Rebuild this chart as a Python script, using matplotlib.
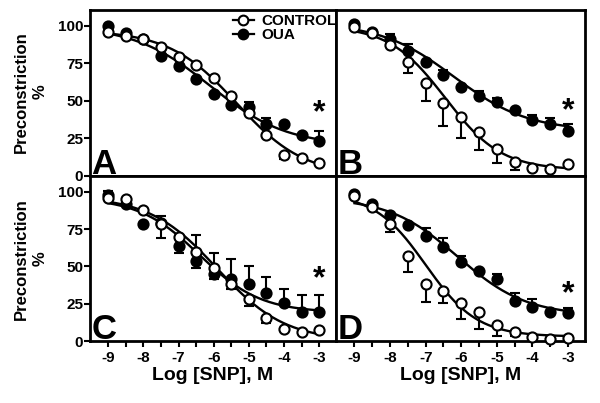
import numpy as np
import matplotlib
matplotlib.use('Agg')
import matplotlib.pyplot as plt
from matplotlib.lines import Line2D

plt.rcParams['font.family'] = ['Liberation Sans', 'DejaVu Sans']
plt.rcParams['font.weight'] = 'bold'

# SNP concentrations (log M)
log_snp = [-9, -8.5, -8, -7.5, -7, -6.5, -6, -5.5, -5, -4.5, -4, -3.5, -3]
xtick_pos = [-9, -8, -7, -6, -5, -4, -3]
xtick_labels = ['-9', '-8', '-7', '-6', '-5', '-4', '-3']
ytick_pos = [0, 25, 50, 75, 100]

# panel A
ctrl_A = [95.8, 93.5, 91, 86, 79, 74, 65.5, 53, 42, 27, 14, 11.8, 8.5]
ctrl_A_up = [0, 0, 0, 0, 0, 0, 0, 0, 0, 0, 0, 0, 0]
ctrl_A_dn = [0, 0, 0, 0, 0, 0, 0, 0, 0, 0, 3, 0, 0]
oua_A = [100, 95.5, 91, 80, 73, 64.7, 54.7, 47.3, 45.8, 34.4, 34.7, 27.3, 23.5]
oua_A_up = [0, 0, 0, 0, 0, 0, 0, 0, 3.2, 4, 0, 0, 6.5]
oua_A_dn = [0, 0, 0, 0, 0, 0, 0, 0, 0, 0, 0, 0, 0]

# panel B
ctrl_B = [99, 95, 87.3, 76, 61.8, 48.4, 39.5, 29, 17.8, 9, 5, 4.7, 8]
ctrl_B_up = [0, 0, 0, 0, 0, 0, 0, 0, 0, 0, 0, 0, 0]
ctrl_B_dn = [0, 0, 0, 7.3, 12.2, 15.1, 14.4, 11.6, 8.9, 4.7, 0, 0, 0]
oua_B = [101, 95.8, 91, 83.5, 76, 67.3, 59, 53.5, 49, 44, 37, 34.4, 30.2]
oua_B_up = [0, 0, 3.3, 4.4, 0, 3.3, 0, 3.3, 2.7, 0, 3.8, 4.4, 4.4]
oua_B_dn = [0, 0, 0, 0, 0, 0, 0, 0, 0, 0, 0, 0, 0]

# panel C
ctrl_C = [95.5, 95, 87.7, 78.3, 69.4, 59.7, 49.2, 38, 28, 15.7, 8.3, 6.3, 7.4]
ctrl_C_up = [0, 0, 0, 0, 0, 11.3, 9.6, 0, 0, 0, 0, 0, 0]
ctrl_C_dn = [0, 0, 0, 9.6, 0, 0, 0, 3.4, 4.5, 3.8, 0, 0, 0]
oua_C = [97.5, 91.5, 78.3, 79, 63.8, 53.7, 44.7, 41.6, 38, 32.4, 25.3, 19.5, 19.5]
oua_C_up = [3, 0, 0, 4.5, 0, 0, 0, 13, 11.9, 10.5, 9.8, 11.2, 11.4]
oua_C_dn = [3, 0, 0, 0, 5, 4.5, 3.4, 0, 0, 0, 0, 0, 0]

# panel D
ctrl_D = [97, 90, 78.3, 57, 38.5, 33.6, 25.3, 19.7, 10.5, 6.3, 2.9, 1.6, 1.8]
ctrl_D_up = [0, 0, 0, 0, 0, 0, 0, 0, 0, 0, 0, 0, 0]
ctrl_D_dn = [0, 0, 5.2, 10.7, 12.3, 8.3, 10.8, 11.9, 7.1, 3, 0, 0, 0]
oua_D = [98.4, 91.7, 84.3, 77.6, 70, 63, 52.6, 47, 41.4, 26.8, 23, 19.7, 19]
oua_D_up = [0, 0, 0, 0, 5.4, 5.7, 4.4, 0, 3.3, 5.6, 5.4, 0, 3.4]
oua_D_dn = [0, 0, 0, 0, 0, 0, 0, 0, 0, 0, 0, 0, 0]

# sigmoid fit parameters: top, bottom, logEC50, hill slope
ctrl_fit_A = [97, 0, -5.35, 0.45]
oua_fit_A = [100, 20, -6.1, 0.4]
ctrl_fit_B = [100, 4, -6.45, 0.55]
oua_fit_B = [102, 30, -6.2, 0.42]
ctrl_fit_C = [97, 0, -5.9, 0.45]
oua_fit_C = [96, 19, -6.4, 0.5]
ctrl_fit_D = [99, 3, -7.0, 0.6]
oua_fit_D = [96, 17, -6.1, 0.45]

# height of the significance star in each panel
star_y = {'A': 42, 'B': 43, 'C': 41.5, 'D': 31.5}


def sigmoid(x, p):
    top, bottom, ec50, hill = p
    return bottom + (top - bottom) / (1 + 10 ** ((x - ec50) * hill))


def draw_series(ax, y, up, dn, fit, face):
    x = np.array(log_snp)
    y = np.array(y)
    up = np.array(up)
    dn = np.array(dn)
    has_err = (up > 0) | (dn > 0)
    ax.errorbar(x[has_err], y[has_err], yerr=[dn[has_err], up[has_err]], fmt='none',
                ecolor='black', elinewidth=1.5, capsize=3.6, capthick=1.5, zorder=2)
    xf = np.linspace(log_snp[0], log_snp[-1], 200)
    ax.plot(xf, sigmoid(xf, fit), color='black', lw=1.7, zorder=3)
    ax.plot(x, y, 'o', ms=7.3, mfc=face, mec='black', mew=1.5, zorder=4, clip_on=False)


def plot_panel(ax, letter, ctrl, ctrl_up, ctrl_dn, oua, oua_up, oua_dn, ctrl_fit, oua_fit,
               left, bottom):
    draw_series(ax, oua, oua_up, oua_dn, oua_fit, 'black')
    draw_series(ax, ctrl, ctrl_up, ctrl_dn, ctrl_fit, 'white')

    ax.set_xlim(-9.52, -2.52)
    ax.set_ylim(0, 110.5)
    for sp in ax.spines.values():
        sp.set_linewidth(2)

    ax.set_xticks(xtick_pos)
    ax.set_xticks(log_snp, minor=True)
    ax.set_yticks(ytick_pos)
    ax.tick_params(which='both', direction='out', length=4, width=1.5, labelsize=11)
    if bottom:
        ax.set_xticklabels(xtick_labels, fontweight='bold')
        ax.set_xlabel('Log [SNP], M', fontsize=14, fontweight='bold', labelpad=1)
    else:
        ax.tick_params(axis='x', which='both', bottom=False, labelbottom=False)
    if left:
        ax.set_yticklabels([str(t) for t in ytick_pos], fontweight='bold')
        ax.tick_params(axis='y', pad=1)
    else:
        ax.tick_params(axis='y', which='both', left=False, labelleft=False)

    ax.text(0.005, 0.015, letter, transform=ax.transAxes, fontsize=25, fontweight='bold',
            ha='left', va='baseline')
    ax.text(-3, star_y[letter], '*', ha='center', va='center', fontsize=23, fontweight='bold')


def main():
    fig = plt.figure(figsize=(6, 4.03), dpi=100)
    axA = fig.add_axes([0.15, 0.5633, 0.41, 0.4119])
    axB = fig.add_axes([0.56, 0.5633, 0.415, 0.4119])
    axC = fig.add_axes([0.15, 0.1538, 0.41, 0.4095])
    axD = fig.add_axes([0.56, 0.1538, 0.415, 0.4095])

    plot_panel(axA, 'A', ctrl_A, ctrl_A_up, ctrl_A_dn, oua_A, oua_A_up, oua_A_dn,
               ctrl_fit_A, oua_fit_A, True, False)
    plot_panel(axB, 'B', ctrl_B, ctrl_B_up, ctrl_B_dn, oua_B, oua_B_up, oua_B_dn,
               ctrl_fit_B, oua_fit_B, False, False)
    plot_panel(axC, 'C', ctrl_C, ctrl_C_up, ctrl_C_dn, oua_C, oua_C_up, oua_C_dn,
               ctrl_fit_C, oua_fit_C, True, True)
    plot_panel(axD, 'D', ctrl_D, ctrl_D_up, ctrl_D_dn, oua_D, oua_D_up, oua_D_dn,
               ctrl_fit_D, oua_fit_D, False, True)

    handles = [Line2D([], [], color='black', lw=1.6, marker='o', ms=7, mfc='white', mew=1.5),
               Line2D([], [], color='black', lw=1.6, marker='o', ms=7, mfc='black', mew=1.5)]
    axA.legend(handles, ['CONTROL', 'OUA'], loc='upper right', bbox_to_anchor=(1.035, 1.02),
               frameon=False, handlelength=1.4, handletextpad=0.5,
               labelspacing=0.0, borderaxespad=0.1, prop={'weight': 'bold', 'size': 11})

    # y labels for both rows
    for yc in [1 - 92 / 403, 1 - 259 / 403]:
        fig.text(31 / 600, yc, 'Preconstriction\n%', rotation=90, ha='center', va='center',
                 fontsize=12, fontweight='bold', linespacing=1.3)

    fig.savefig('out.png', dpi=100)


if __name__ == "__main__":
    main()
